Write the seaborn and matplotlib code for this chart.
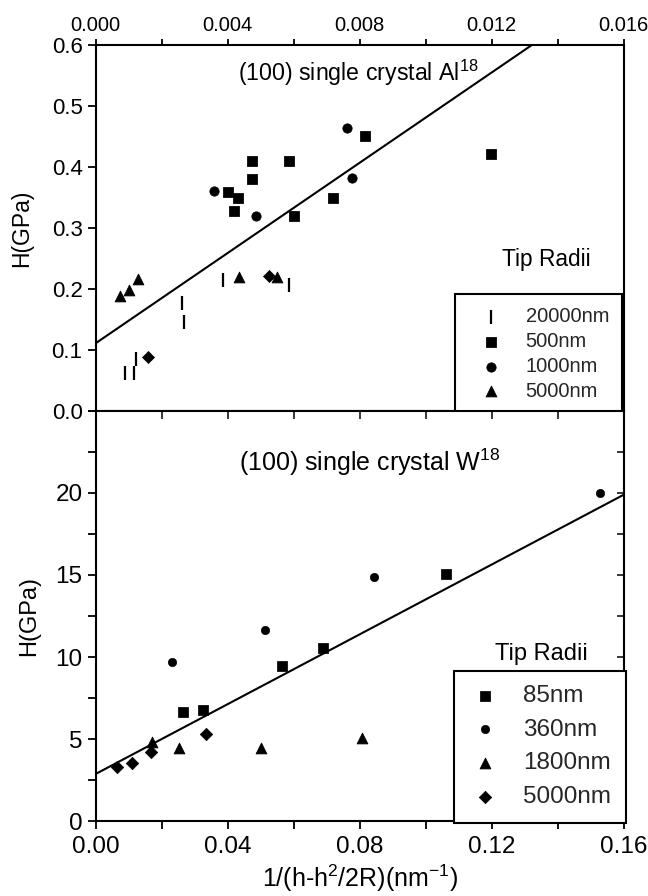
import numpy as np
import matplotlib
matplotlib.use("Agg")
import matplotlib.pyplot as plt
import seaborn as sns
from matplotlib.ticker import MultipleLocator, FormatStrFormatter

sns.set_theme(style="ticks")
plt.rcParams['font.family'] = ['Liberation Sans', 'DejaVu Sans']
plt.rcParams['mathtext.default'] = 'regular'

# ---- (100) Al data, tip radii ----
al_20000_x = [0.00089, 0.00117, 0.00121, 0.00260, 0.00268, 0.00387, 0.00586]
al_20000_y = [0.063, 0.062, 0.085, 0.177, 0.146, 0.214, 0.206]
al_500_x = [0.00816, 0.00475, 0.00586, 0.00475, 0.00401, 0.00431, 0.00418, 0.00602, 0.00720, 0.01198]
al_500_y = [0.450, 0.410, 0.410, 0.380, 0.358, 0.349, 0.328, 0.320, 0.349, 0.421]
al_1000_x = [0.00761, 0.00357, 0.00485, 0.00776]
al_1000_y = [0.463, 0.360, 0.320, 0.381]
al_5000_x = [0.00074, 0.00101, 0.00127, 0.00434, 0.00550]
al_5000_y = [0.188, 0.198, 0.217, 0.220, 0.220]
al_other_x = [0.00525, 0.00158]
al_other_y = [0.221, 0.089]
al_fit = (0.111, 36.96)   # intercept, slope

# ---- (100) W data, tip radii ----
w_85_x = [0.0266, 0.0326, 0.0565, 0.0690, 0.1062]
w_85_y = [6.64, 6.74, 9.47, 10.55, 15.04]
w_360_x = [0.0232, 0.0512, 0.0844, 0.1528]
w_360_y = [9.70, 11.62, 14.87, 20.03]
w_1800_x = [0.0170, 0.0252, 0.0501, 0.0808]
w_1800_y = [4.81, 4.48, 4.48, 5.09]
w_5000_x = [0.0064, 0.0111, 0.0168, 0.0333]
w_5000_y = [3.32, 3.52, 4.20, 5.32]
w_fit = (2.87, 106.4)

fig = plt.figure(figsize=(6.48, 8.96), dpi=100)
ax1 = fig.add_axes([0.1477, 0.5413, 0.8148, 0.4088])
ax2 = fig.add_axes([0.1477, 0.0837, 0.8148, 0.4576])

for ax in (ax1, ax2):
    for sp in ax.spines.values():
        sp.set_linewidth(1.5)
        sp.set_color('black')
        sp.set_visible(True)

# Top panel: Al
xf = np.array([0.0, 0.016])
sns.lineplot(x=xf, y=al_fit[0] + al_fit[1] * xf, color='black', linewidth=1.5, ax=ax1)
sns.scatterplot(x=al_20000_x, y=al_20000_y, marker='|', s=110, color='black',
                edgecolor=None, linewidth=1.6, label='20000nm', ax=ax1)
sns.scatterplot(x=al_500_x, y=al_500_y, marker='s', s=50, color='black',
                edgecolor='black', label='500nm', ax=ax1)
sns.scatterplot(x=al_1000_x, y=al_1000_y, marker='o', s=45, color='black',
                edgecolor='black', label='1000nm', ax=ax1)
sns.scatterplot(x=al_5000_x, y=al_5000_y, marker='^', s=60, color='black',
                edgecolor='black', label='5000nm', ax=ax1)
sns.scatterplot(x=al_other_x, y=al_other_y, marker='D', s=38, color='black',
                edgecolor='black', ax=ax1)

ax1.set_xlim(0, 0.016)
ax1.set_ylim(0, 0.6)
ax1.xaxis.set_major_locator(MultipleLocator(0.004))
ax1.xaxis.set_minor_locator(MultipleLocator(0.002))
ax1.yaxis.set_major_locator(MultipleLocator(0.1))
ax1.xaxis.set_major_formatter(FormatStrFormatter('%.3f'))
ax1.yaxis.set_major_formatter(FormatStrFormatter('%.1f'))
ax1.tick_params(axis='x', which='both', top=True, bottom=False, labeltop=True,
                labelbottom=False, direction='out', length=4, width=1.3,
                labelsize=14.5, colors='black', pad=3)
ax1.tick_params(axis='y', which='both', left=True, right=False, direction='out',
                length=6, width=1.3, labelsize=16, colors='black')
ax1.set_ylabel('H(GPa)', fontsize=16.5, color='black', labelpad=13)
ax1.set_xlabel('')
ax1.text(0.00795, 0.554, '(100) single crystal Al$^{18}$', ha='center', va='center',
         fontsize=16.7, color='black')
ax1.text(0.854, 0.414, 'Tip Radii', transform=ax1.transAxes, ha='center',
         va='center', fontsize=16.4, color='black')
h, l = ax1.get_legend_handles_labels()
leg1 = ax1.legend(h, l, loc='upper right', bbox_to_anchor=(0.997, 0.319),
                  fontsize=14.5, frameon=True, fancybox=False, framealpha=1,
                  edgecolor='black', labelspacing=0.29, handletextpad=0.63,
                  borderpad=0.65, borderaxespad=0, handlelength=2.2)
leg1.get_frame().set_linewidth(1.5)

# Bottom panel: W
xf2 = np.array([0.0, 0.16])
sns.lineplot(x=xf2, y=w_fit[0] + w_fit[1] * xf2, color='black', linewidth=1.5, ax=ax2)
sns.scatterplot(x=w_85_x, y=w_85_y, marker='s', s=45, color='black',
                edgecolor='black', label='85nm', ax=ax2)
sns.scatterplot(x=w_360_x, y=w_360_y, marker='o', s=36, color='black',
                edgecolor='black', label='360nm', ax=ax2)
sns.scatterplot(x=w_1800_x, y=w_1800_y, marker='^', s=60, color='black',
                edgecolor='black', label='1800nm', ax=ax2)
sns.scatterplot(x=w_5000_x, y=w_5000_y, marker='D', s=40, color='black',
                edgecolor='black', label='5000nm', ax=ax2)

ax2.set_xlim(0, 0.16)
ax2.set_ylim(0, 25)
ax2.xaxis.set_major_locator(MultipleLocator(0.04))
ax2.xaxis.set_minor_locator(MultipleLocator(0.02))
ax2.yaxis.set_major_locator(MultipleLocator(5))
ax2.yaxis.set_minor_locator(MultipleLocator(2.5))
ax2.set_yticks([0, 5, 10, 15, 20])
ax2.xaxis.set_major_formatter(FormatStrFormatter('%.2f'))
ax2.tick_params(axis='x', which='both', bottom=True, top=False, direction='out',
                length=6, width=1.3, labelsize=17.5, colors='black', pad=5)
ax2.tick_params(axis='y', which='both', left=True, right=False, direction='out',
                length=6, width=1.3, labelsize=17.5, colors='black')
# inward ticks on the top and right edges
ax2t = ax2.secondary_xaxis('top')
ax2t.set_xticks(np.arange(0.02, 0.16, 0.02))
ax2t.tick_params(direction='in', length=6, width=1.3, labeltop=False)
ax2r = ax2.secondary_yaxis('right')
ax2r.set_yticks(np.arange(2.5, 25, 2.5))
ax2r.tick_params(direction='in', length=5, width=1.3, labelright=False)
ax2.set_ylabel('H(GPa)', fontsize=17, color='black', labelpad=11)
ax2.set_xlabel('1/(h-h$^2$/2R)(nm$^{-1}$)', fontsize=18, color='black', labelpad=3)
ax2.text(0.0831, 21.9, '(100) single crystal W$^{18}$', ha='center', va='center',
         fontsize=18, color='black')
ax2.text(0.845, 0.408, 'Tip Radii', transform=ax2.transAxes, ha='center',
         va='center', fontsize=17, color='black')
h, l = ax2.get_legend_handles_labels()
leg2 = ax2.legend(h, l, loc='upper right', bbox_to_anchor=(1.004, 0.367),
                  fontsize=17.5, frameon=True, fancybox=False, framealpha=1,
                  edgecolor='black', labelspacing=0.48, handletextpad=0.86,
                  borderpad=0.6, borderaxespad=0, handlelength=1.4)
leg2.get_frame().set_linewidth(1.5)

fig.savefig('out.png', dpi=100)
